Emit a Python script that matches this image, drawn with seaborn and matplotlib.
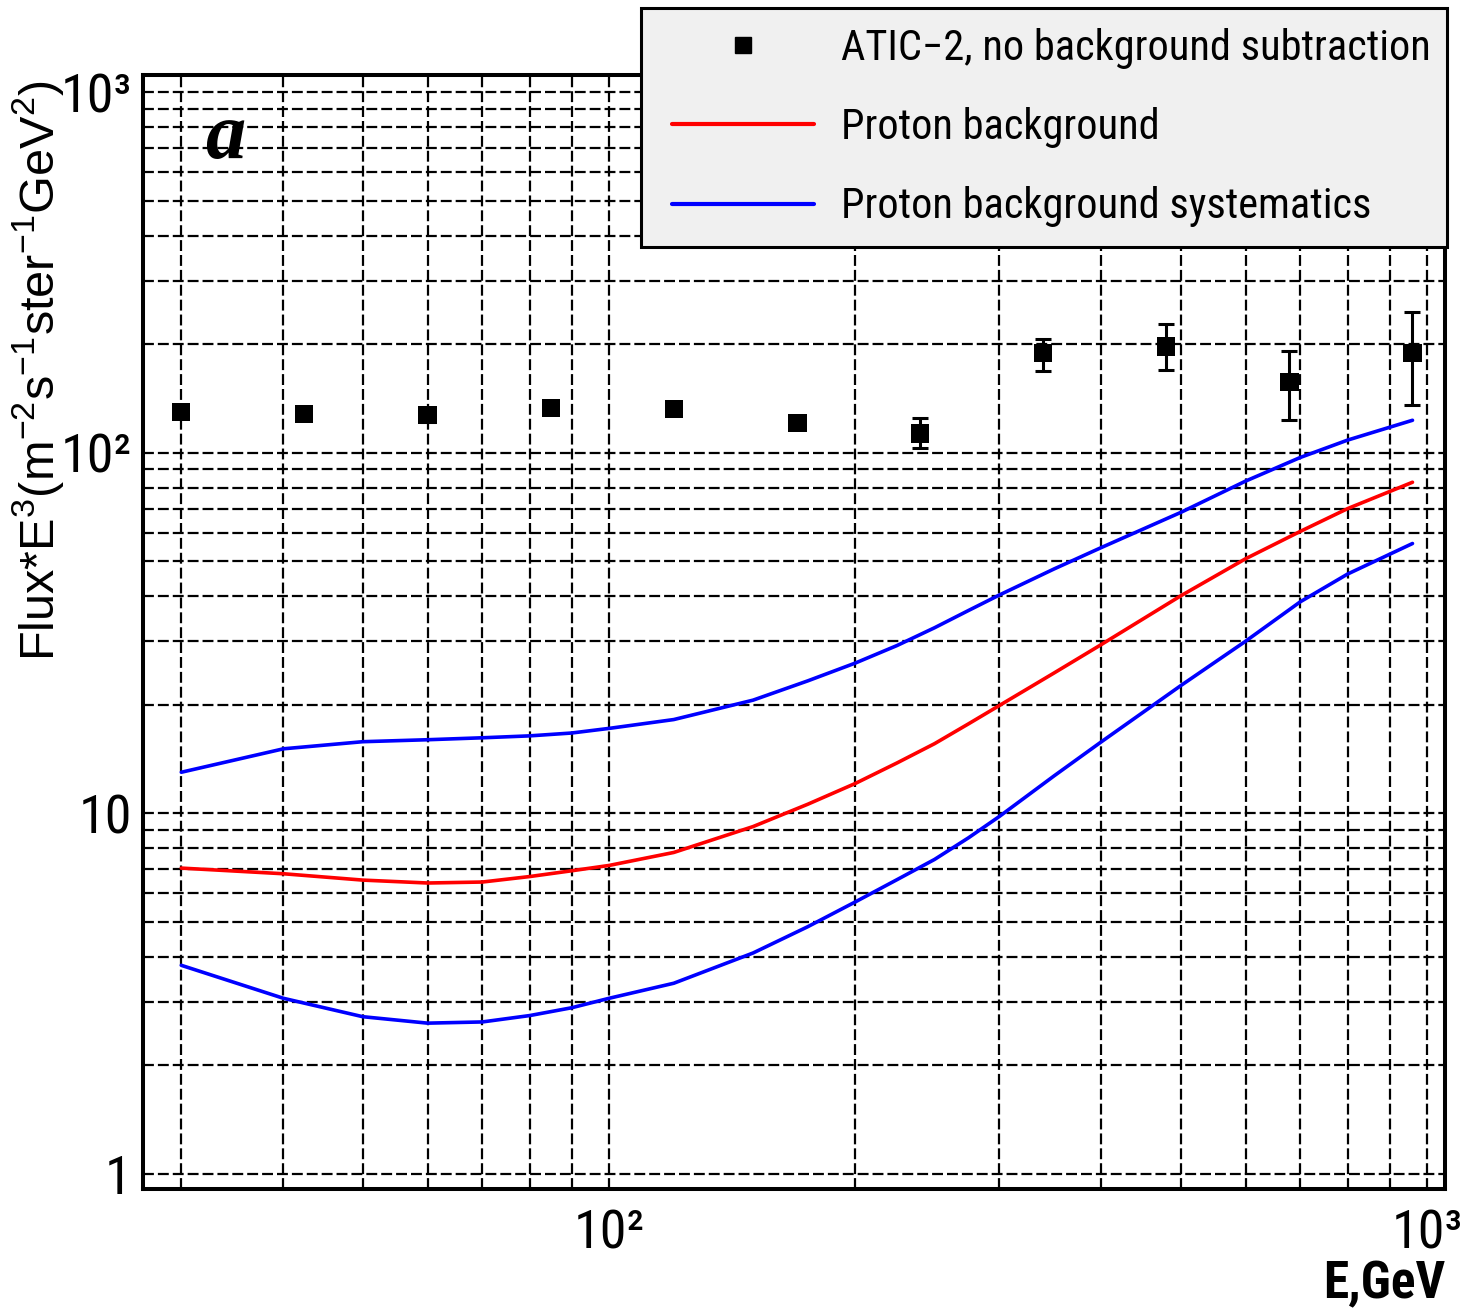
import matplotlib
matplotlib.use("Agg")
import matplotlib.pyplot as plt
import seaborn as sns
import pandas as pd
from matplotlib import font_manager as fm
from matplotlib.lines import Line2D
from matplotlib.legend_handler import HandlerLine2D
from matplotlib.ticker import FixedLocator, FixedFormatter, NullFormatter, LogLocator
from matplotlib.font_manager import FontProperties

# ---------------- data ----------------
energy_points = [30, 42.4, 60, 84.9, 120, 170, 240, 339, 480, 679, 960]
flux_points = [130, 128, 127, 133, 132, 121, 113, 189, 197, 157, 189]
err_low = [5, 5, 5, 5, 5, 5, 10, 21, 27, 34, 53]
err_high = [5, 5, 5, 5, 5, 5, 12, 17, 30, 35, 57]

energy_curve = [30, 40, 50, 60, 70, 80, 90, 100, 120, 150, 175, 200, 225, 250, 275, 300,
                350, 400, 500, 600, 700, 800, 960]
proton_bg = [7.05, 6.8, 6.53, 6.41, 6.45, 6.68, 6.93, 7.17, 7.79, 9.19, 10.6, 12.1, 13.8, 15.6,
             17.7, 19.9, 24.5, 29.4, 40.1, 50.8, 60.5, 70.0, 82.8]
sys_upper = [13.0, 15.1, 15.8, 16.0, 16.2, 16.4, 16.7, 17.2, 18.2, 20.6, 23.3, 26.1, 29.2, 32.7,
             36.5, 40.3, 47.6, 54.6, 68.3, 83.4, 97.0, 108.4, 123.0]
sys_lower = [3.79, 3.07, 2.73, 2.62, 2.64, 2.75, 2.89, 3.07, 3.38, 4.1, 4.85, 5.68, 6.55, 7.45,
             8.55, 9.8, 12.7, 15.8, 22.6, 30.0, 38.6, 46.1, 56.0]

legend_labels = ["ATIC\u22122, no background subtraction", "Proton background",
                 "Proton background systematics"]
x_ticks = [100, 1000]
x_tick_labels = ["10\u00b2", "10\u00b3"]
y_ticks = [1, 10, 100, 1000]
y_tick_labels = ["1", "10", "10\u00b2", "10\u00b3"]


# ---------------- fonts ----------------
def pick_narrow(bold):
    best, best_rank = None, 99
    for f in fm.fontManager.ttflist:
        nm = f.name.lower()
        st = str(f.stretch).lower()
        is_narrow = ("narrow" in nm) or ("condensed" in nm) or st in (
            "condensed", "semi-condensed", "extra-condensed", "ultra-condensed")
        if not is_narrow or f.style != "normal":
            continue
        if ("serif" in nm and "sans" not in nm) or "mono" in nm:
            continue
        w = f.weight if isinstance(f.weight, (int, float)) else fm.weight_dict.get(f.weight, 400)
        if bold != (w >= 600):
            continue
        if "liberation sans narrow" in nm:
            rank = 0
        elif "arial" in nm:
            rank = 1
        elif "roboto" in nm:
            rank = 2
        elif "dejavu sans" in nm:
            rank = 3
        else:
            rank = 4
        if "semi" in st:
            rank += 0.5
        if rank < best_rank:
            best, best_rank = f, rank
    return best


nf = pick_narrow(False)
nfb = pick_narrow(True)
if nf is not None:
    def narrow(size):
        return FontProperties(fname=nf.fname, size=size)
    LEG_FS, TICK_FS = 30.5, 39
else:
    def narrow(size):
        return FontProperties(family=["Liberation Sans", "DejaVu Sans"], size=size)
    LEG_FS, TICK_FS = 27, 34
if nfb is not None:
    XLAB_FP = FontProperties(fname=nfb.fname, size=37)
else:
    XLAB_FP = FontProperties(family=["Liberation Sans", "DejaVu Sans"], weight="bold",
                             size=30 if nf is None else 33)

# ---------------- style ----------------
sns.set_style("white")
plt.rcParams["font.family"] = ["Liberation Sans", "DejaVu Sans"]
plt.rcParams["text.color"] = "black"
plt.rcParams["axes.labelcolor"] = "black"
plt.rcParams["mathtext.fontset"] = "custom"
plt.rcParams["mathtext.rm"] = "Liberation Sans"
plt.rcParams["mathtext.default"] = "rm"

fig = plt.figure(figsize=(14.63, 13.11), dpi=100)
ax = fig.add_axes([0.0977, 0.0931, 0.8900, 0.8497])
ax.set_xscale("log")
ax.set_yscale("log")

curves = pd.DataFrame({
    "E": energy_curve * 3,
    "flux": proton_bg + sys_upper + sys_lower,
    "curve": ["bg"] * len(energy_curve) + ["up"] * len(energy_curve) + ["low"] * len(energy_curve),
})
sns.lineplot(data=curves, x="E", y="flux", hue="curve",
             palette={"bg": "#ff0000", "up": "#0000ff", "low": "#0000ff"},
             estimator=None, sort=False, legend=False, linewidth=2.6, ax=ax, zorder=3)

ax.errorbar(energy_points, flux_points, yerr=[err_low, err_high], fmt="none",
            ecolor="black", elinewidth=2.2, capsize=6, capthick=2.2, zorder=4)
sns.scatterplot(x=energy_points, y=flux_points, marker="s", s=170, color="black",
                edgecolor="none", ax=ax, zorder=5, legend=False)

ax.set_xlim(26.93, 1052)
ax.set_ylim(0.909, 1115)

ax.xaxis.set_major_locator(FixedLocator(x_ticks))
ax.xaxis.set_major_formatter(FixedFormatter(x_tick_labels))
ax.xaxis.set_minor_locator(LogLocator(base=10, subs=range(2, 10), numticks=20))
ax.xaxis.set_minor_formatter(NullFormatter())
ax.yaxis.set_major_locator(FixedLocator(y_ticks))
ax.yaxis.set_major_formatter(FixedFormatter(y_tick_labels))
ax.yaxis.set_minor_locator(LogLocator(base=10, subs=range(2, 10), numticks=20))
ax.yaxis.set_minor_formatter(NullFormatter())

ax.grid(True, which="both", color="black", linestyle=(0, (4.9, 1.8)), linewidth=1.6)
ax.set_axisbelow(True)
ax.tick_params(which="both", direction="in", top=False, right=False, color="black",
               labelcolor="black")
ax.tick_params(which="major", length=26.6, width=2.2)
ax.tick_params(which="minor", length=13, width=2.2)
ax.tick_params(axis="y", which="major", pad=8)
ax.tick_params(axis="x", which="major", pad=14)
for lbl in ax.get_xticklabels() + ax.get_yticklabels():
    lbl.set_fontproperties(narrow(TICK_FS))

for sp in ax.spines.values():
    sp.set_visible(True)
    sp.set_color("black")
    sp.set_linewidth(2.9)

ax.set_ylabel(r"Flux*E$^{3}$(m$^{-2}$s$^{-1}$ster$^{-1}$GeV$^{2}$)", fontsize=35,
              family=["Liberation Sans", "DejaVu Sans"], loc="top", color="black")
ax.yaxis.set_label_coords(-0.059, 0.995)
ax.set_xlabel("E,GeV", fontproperties=XLAB_FP, loc="right", color="black")
ax.xaxis.set_label_coords(1.0, -0.063)

ax.text(0.063, 0.943, "a", transform=ax.transAxes, fontsize=58, fontweight="bold",
        fontstyle="italic", family=["Liberation Serif", "DejaVu Serif"],
        ha="center", va="center", color="black")

# legend geometry (points converted to font-size units)
fs = LEG_FS
handles = [
    Line2D([], [], linestyle="none", marker="s", markersize=12, color="black"),
    Line2D([], [], color="#ff0000", linewidth=3.0),
    Line2D([], [], color="#0000ff", linewidth=3.0),
]
leg = fig.legend(handles, legend_labels, loc="upper left",
                 bbox_to_anchor=(0.4381, 0.8116, 0.5509, 0.1823), mode="expand",
                 borderaxespad=0, prop=narrow(fs),
                 handlelength=110.0 / fs, handletextpad=20.0 / fs, labelspacing=27.5 / fs,
                 borderpad=14.4 / fs, fancybox=False, shadow=False, framealpha=1,
                 facecolor="#f0f0f0", edgecolor="black", numpoints=1,
                 handler_map={Line2D: HandlerLine2D(xpad=7.9 / fs, numpoints=1)})
leg.get_frame().set_linewidth(2.2)
for t in leg.get_texts():
    t.set_color("black")

fig.savefig("out.png", dpi=100)
